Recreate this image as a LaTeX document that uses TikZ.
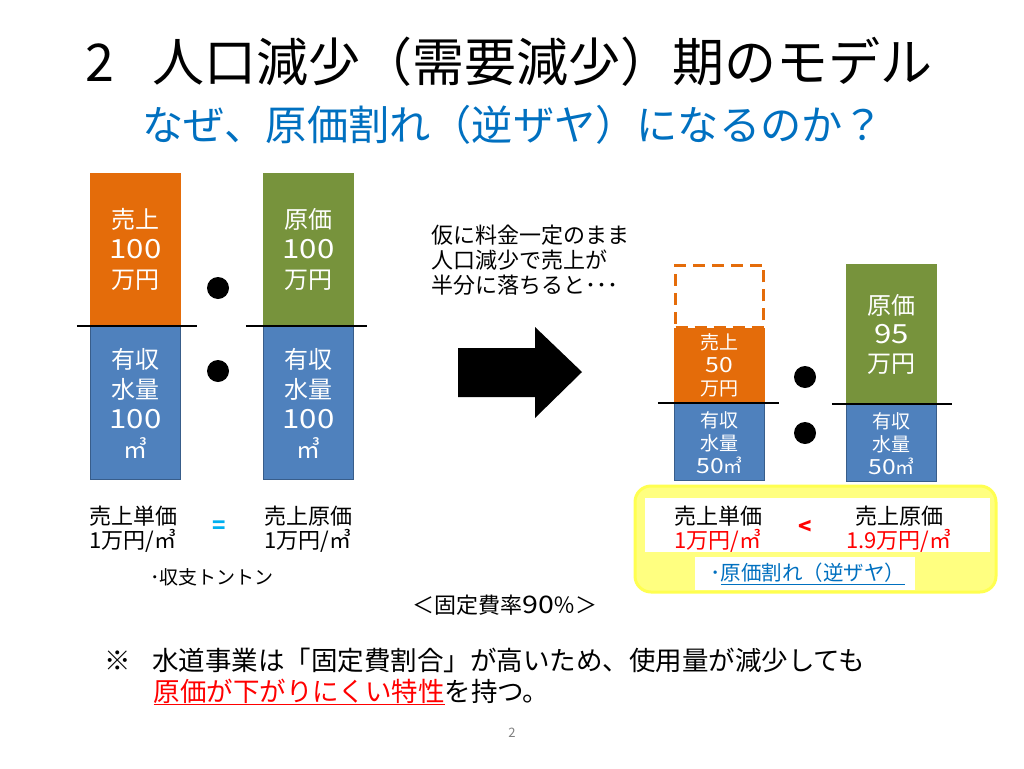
\documentclass[tikz,border=0pt]{standalone}
\usepackage{fontspec}
\setmainfont{Noto Sans CJK JP}
\usetikzlibrary{positioning}
\definecolor{salesorange}{HTML}{E46C0A}
\definecolor{costgreen}{HTML}{77933C}
\definecolor{waterblue}{HTML}{4F81BD}
\definecolor{waterline}{HTML}{385D8A}
\definecolor{titleblue}{HTML}{0070C0}
\definecolor{eqblue}{HTML}{00B0F0}
\definecolor{alert}{HTML}{FF0000}
\definecolor{markfill}{HTML}{FFFF80}
\definecolor{markedge}{HTML}{FFFF50}
\newcommand\widenum[1]{\scalebox{1.3}[1.1]{#1}}

\begin{document}
\begin{tikzpicture}[x=1pt, y=-1pt,
    bar/.style={inner sep=0pt, text=white, align=center, minimum width=91pt},
    salesbar/.style={bar, fill=salesorange},
    costbar/.style={bar, fill=costgreen},
    waterbar/.style={bar, fill=waterblue, draw=waterline, line width=1.2pt, minimum width=89.8pt},
    divider/.style={line width=2.2pt},
    sep/.style={circle, fill=black, minimum size=22pt, inner sep=0pt},
    big/.style={font=\fontsize{24}{30}\selectfont},
    mid/.style={font=\fontsize{22}{24}\selectfont, inner sep=0pt},
    small/.style={font=\fontsize{19}{23}\selectfont}]
\useasboundingbox[fill=white] (0,0) rectangle (1024,768);

% title
\node[anchor=west, font=\fontsize{52}{60}\selectfont] (title) at (82,62) {2\hspace{38pt}人口減少（需要減少）期のモデル};
\node[text=titleblue, font=\fontsize{41.2}{48}\selectfont] (subtitle) at (513,125) {なぜ、原価割れ（逆ザヤ）になるのか？};

% before
\node[salesbar, big, minimum height=153pt] (salesA) at (135.5,249.5) {売上\\\widenum{100}\\万円};
\node[waterbar, big, minimum height=153pt, below=0pt of salesA] (waterA) {有収\\水量\\\widenum{100}\\㎥};
\node[costbar, big, minimum height=153pt] (costA) at (308.5,249.5) {原価\\\widenum{100}\\万円};
\node[waterbar, big, minimum height=153pt, below=0pt of costA] (waterA2) {有収\\水量\\\widenum{100}\\㎥};
\draw[divider] ([xshift=-13pt]salesA.south west) -- ([xshift=16pt]salesA.south east);
\draw[divider] ([xshift=-17pt]costA.south west) -- ([xshift=13pt]costA.south east);
\node[sep] (dotA) at (218,288) {};
\node[sep] (dotA2) at (218,371) {};

\node[mid, anchor=west, align=left] (unitA) at (89,529) {売上単価\\1万円/㎥};
\node[mid, text=eqblue] (eq) at (219,527) {\textbf{=}};
\node[mid, anchor=west, align=left] (costunitA) at (264,529) {売上原価\\1万円/㎥};
\node[small, anchor=west, inner sep=0pt] (even) at (150,577) {･収支トントン};
\node[mid] (fixed) at (505,605) {＜固定費率\widenum{90}％＞};

% arrow
\node[mid, anchor=west, align=left, font=\fontsize{22}{25}\selectfont] (cond) at (431,260) {仮に料金一定のまま\\人口減少で売上が\\半分に落ちると･･･};
\fill (458,348) -- (535,348) -- (535,327) -- (582,372) -- (535,418) -- (535,397) -- (458,397) -- cycle;

% after
\node[salesbar, small, minimum height=75pt] (salesB) at (719.5,365.5) {売上\\\widenum{50}\\万円};
\node[bar, draw=salesorange, line width=3pt, dash pattern=on 12pt off 7pt, minimum width=88pt, minimum height=62pt, above=-1pt of salesB] (lost) {};
\node[waterbar, small, minimum height=77pt, below=0pt of salesB] (waterB) {有収\\水量\\\widenum{50}㎥};
\node[costbar, big, font=\fontsize{24}{29}\selectfont, minimum height=140pt] (costB) at (891.5,334) {原価\\\widenum{95}\\万円};
\node[waterbar, small, minimum height=77pt, below=0pt of costB] (waterB2) {有収\\水量\\\widenum{50}㎥};
\draw[divider] ([xshift=-16pt]salesB.south west) -- ([xshift=14pt]salesB.south east);
\draw[divider] ([xshift=-14pt]costB.south west) -- ([xshift=15pt]costB.south east);
\node[sep] (dotB) at (805,377) {};
\node[sep] (dotB2) at (805,433) {};

\draw[rounded corners=16pt, fill=markfill, draw=markedge, line width=3pt] (635,486) rectangle (996,592);
\fill[white] (645,498) rectangle (990,552);
\fill[white] (695,557) rectangle (915,590);
\node[mid, align=center] (unitB) at (718,529) {売上単価\\\textcolor{alert}{1万円/㎥}};
\node[mid, text=alert] (lt) at (805,527) {\textbf{<}};
\node[mid, align=center] (costunitB) at (899,529) {売上原価\\\textcolor{alert}{1.9万円/㎥}};
\node[small, font=\fontsize{20.5}{24}\selectfont, text=titleblue] (loss) at (808,574) {･\underline{原価割れ（逆ザヤ）}};

% note
\node[anchor=west, font=\fontsize{26.5}{32}\selectfont] (note) at (101,660) {※\hspace{21pt}水道事業は「固定費割合」が高いため、使用量が減少しても};
\node[anchor=west, font=\fontsize{26.5}{32}\selectfont] (note2) at (150,692) {\textcolor{alert}{\underline{原価が下がりにくい特性}}を持つ。};
\node[text=gray, font=\fontsize{13}{15}\selectfont] (page) at (512,733) {2};
\end{tikzpicture}
\end{document}
